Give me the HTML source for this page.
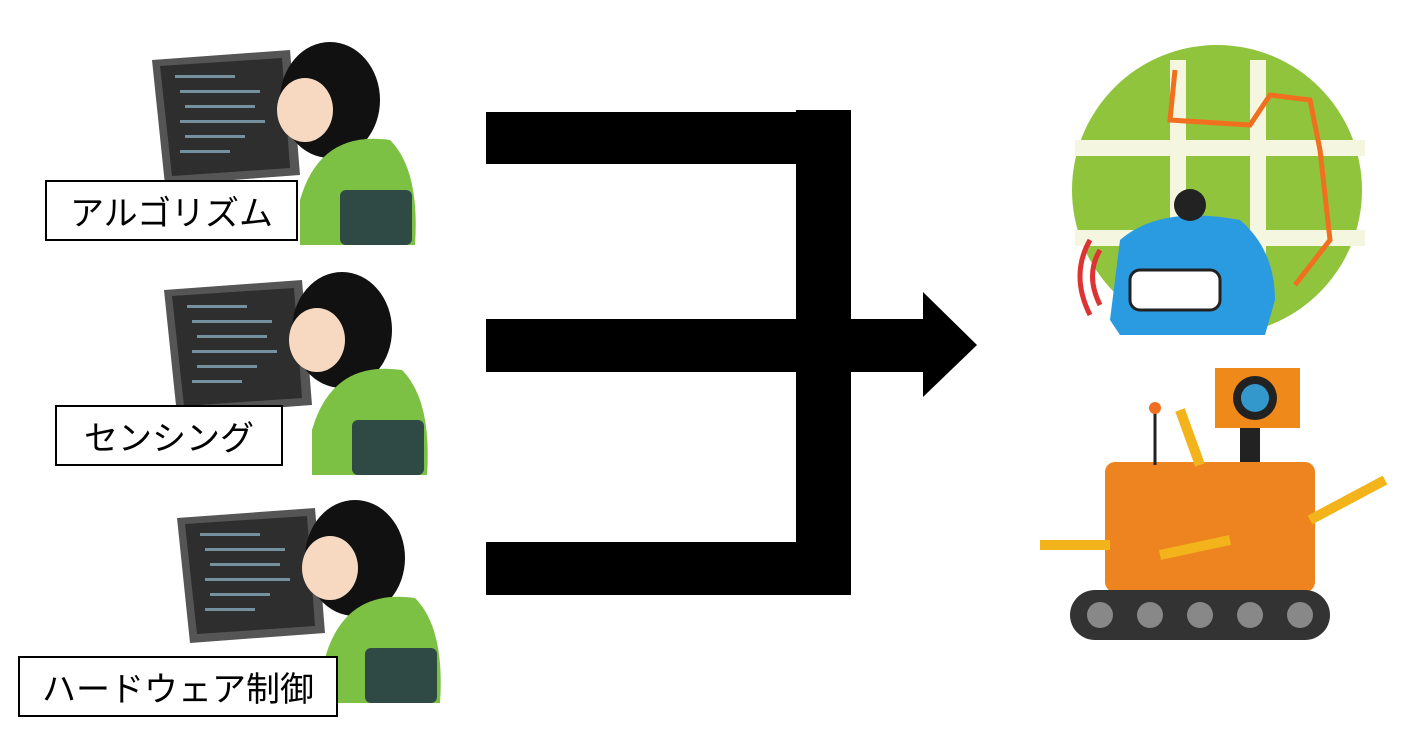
<!DOCTYPE html>
<html><head><meta charset="utf-8"><style>
html,body{margin:0;padding:0;background:#fff;}
body{width:1418px;height:732px;position:relative;overflow:hidden;font-family:"Liberation Sans","Noto Sans CJK JP",sans-serif;}
.b{position:absolute;background:#000;}
.lbl{position:absolute;background:#fff;border:2px solid #000;font-size:34px;display:flex;align-items:center;justify-content:center;box-sizing:border-box;}
svg{position:absolute;left:0;top:0;}
</style></head><body>
<svg width="1418" height="732">
 <g id="p1">
  <polygon points="152,60 290,50 300,175 165,185" fill="#555"/>
  <polygon points="160,66 282,58 290,168 172,176" fill="#2e2e2e"/>
  <g fill="#8ab" opacity=".8"><rect x="175" y="75" width="60" height="3"/><rect x="180" y="90" width="80" height="3"/><rect x="185" y="105" width="70" height="3"/><rect x="180" y="120" width="85" height="3"/><rect x="185" y="135" width="60" height="3"/><rect x="180" y="150" width="50" height="3"/></g>
  <ellipse cx="330" cy="100" rx="50" ry="58" fill="#111"/>
  <ellipse cx="305" cy="110" rx="28" ry="32" fill="#f6d9c0"/>
  <path d="M300,200 Q320,130 390,140 Q420,170 415,245 L300,245 Z" fill="#7cc143"/>
  <rect x="340" y="190" width="72" height="55" rx="6" fill="#2f4a44"/>
 </g>
 <use href="#p1" transform="translate(12,230)"/>
 <use href="#p1" transform="translate(25,458)"/>
 <circle cx="1217" cy="190" r="145" fill="#8fc43c"/>
 <g fill="#f4f6e0"><rect x="1170" y="60" width="16" height="260"/><rect x="1250" y="60" width="16" height="260"/><rect x="1075" y="140" width="290" height="16"/><rect x="1075" y="230" width="290" height="16"/></g>
 <path d="M1175,70 L1170,120 L1250,125 L1270,95 L1310,100 L1320,150 L1330,240 L1295,285" fill="none" stroke="#f07020" stroke-width="5"/>
 <path d="M1100,250 Q1085,275 1100,305 M1090,240 Q1070,275 1090,315" fill="none" stroke="#d33" stroke-width="5"/>
 <path d="M1110,320 L1120,240 Q1160,205 1240,220 Q1275,250 1275,300 L1265,335 L1120,335 Z" fill="#2a9be0"/>
 <rect x="1130" y="270" width="90" height="40" rx="10" fill="#fff" stroke="#222" stroke-width="3"/>
 <circle cx="1190" cy="205" r="16" fill="#222"/>
 <rect x="1215" y="368" width="85" height="60" fill="#ef8a1a"/>
 <circle cx="1255" cy="398" r="22" fill="#222"/><circle cx="1255" cy="398" r="14" fill="#39c"/>
 <rect x="1240" y="428" width="20" height="50" fill="#222"/>
 <rect x="1105" y="462" width="210" height="130" rx="10" fill="#ee8420"/>
 <line x1="1155" y1="410" x2="1155" y2="465" stroke="#222" stroke-width="3"/><circle cx="1155" cy="408" r="6" fill="#f07020"/>
 <rect x="1070" y="590" width="260" height="50" rx="25" fill="#333"/>
 <g fill="#888"><circle cx="1100" cy="615" r="13"/><circle cx="1150" cy="615" r="13"/><circle cx="1200" cy="615" r="13"/><circle cx="1250" cy="615" r="13"/><circle cx="1300" cy="615" r="13"/></g>
 <path d="M1040,545 L1110,545 M1310,520 L1385,480 M1160,555 L1230,540 M1180,410 L1200,465" stroke="#f2b41a" stroke-width="10"/>
</svg>
<div class="b" style="left:486px;top:112px;width:365px;height:52px"></div>
<div class="b" style="left:796px;top:110px;width:55px;height:484px"></div>
<div class="b" style="left:486px;top:319px;width:437px;height:53px"></div>
<div class="b" style="left:486px;top:542px;width:365px;height:53px"></div>
<svg width="1418" height="732" style="pointer-events:none"><polygon points="923,292 977,345 923,397" fill="#000"/></svg>
<div class="lbl" style="left:45px;top:180px;width:253px;height:61px">アルゴリズム</div>
<div class="lbl" style="left:55px;top:405px;width:228px;height:61px">センシング</div>
<div class="lbl" style="left:18px;top:656px;width:320px;height:61px">ハードウェア制御</div>
</body></html>
